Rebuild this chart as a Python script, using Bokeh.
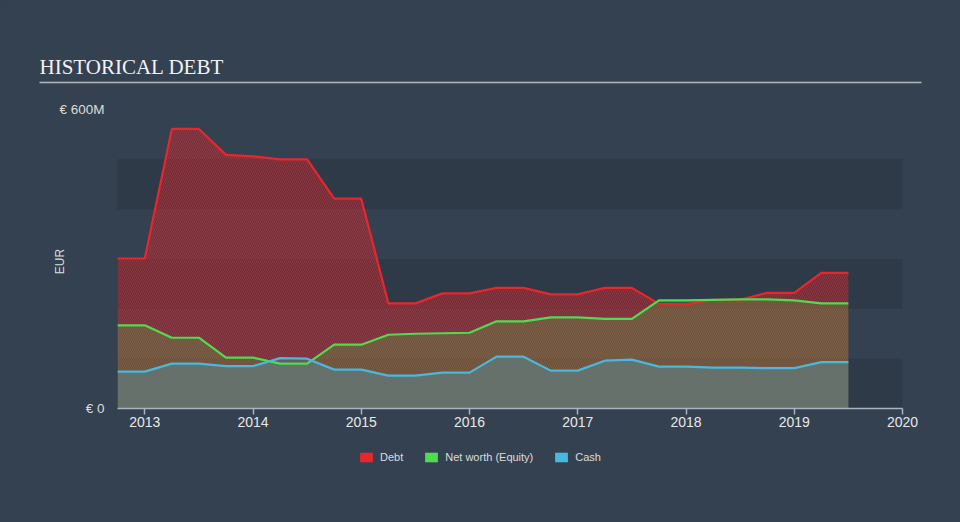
from bokeh.plotting import figure
from bokeh.models import Range1d, FixedTicker, BoxAnnotation, Legend, LegendItem, Label
from bokeh.embed import file_html
from bokeh.resources import INLINE

# ---- data (EUR millions), quarterly report dates as fractional years ----
dates = [2012.75, 2013.0, 2013.25, 2013.5, 2013.75, 2014.0, 2014.25, 2014.5,
         2014.75, 2015.0, 2015.25, 2015.5, 2015.75, 2016.0, 2016.25, 2016.5,
         2016.75, 2017.0, 2017.25, 2017.5, 2017.75, 2018.0, 2018.25, 2018.5,
         2018.75, 2019.0, 2019.25, 2019.5]
debt = [301, 301, 561, 561, 509, 506, 500, 500,
        421, 421, 211, 211, 231, 231, 242, 242,
        229, 229, 242, 242, 210, 209, 218, 218,
        232, 232, 272, 272]
equity = [167, 167, 142, 142, 102, 102, 90, 90,
          128, 128, 148, 150, 151, 152, 175, 175,
          183, 183, 180, 180, 217, 217, 218, 219,
          219, 217, 211, 211]
cash = [74, 74, 90, 90, 85, 85, 101, 100,
        78, 78, 66, 66, 72, 72, 104, 104,
        76, 76, 96, 98, 84, 84, 82, 82,
        81, 81, 93, 93]
year_ticks = [2013, 2014, 2015, 2016, 2017, 2018, 2019, 2020]
series_names = ["Debt", "Net worth (Equity)", "Cash"]
y_ticks = [0, 600]
y_tick_labels = {0: "€ 0", 600: "€ 600M"}
bands = [(0, 100), (200, 300), (400, 500)]
title_text = "HISTORICAL DEBT"

BG = "#344150"
BAND = "#2e3a48"
RED = "#e8262b"
GREEN = "#4fdc4f"
BLUE = "#48b8df"
TXT = "#dcdcdc"

W, H = 960, 522
# plotting area in pixels: x 117..902, y 109 (600M) .. 408 (0)
X0, X1 = dates[0] - 0.002, year_ticks[-1]
PX_L, PX_R, PX_T, PX_B = 117, 902, 109, 408
sx = (PX_R - PX_L) / (X1 - X0)
sy = (PX_B - PX_T) / 600.0
x_start = X0 - PX_L / sx
x_end = X1 + (W - PX_R) / sx
y_start = -(H - PX_B) / sy
y_end = 600 + PX_T / sy


def px_x(px):
    return x_start + px / sx


def px_y(py):
    return y_end - py / sy


p = figure(width=W, height=H,
           x_range=Range1d(x_start, x_end), y_range=Range1d(y_start, y_end),
           output_backend="svg", toolbar_location=None,
           min_border=0, min_border_left=0, min_border_right=0,
           min_border_top=0, min_border_bottom=0,
           background_fill_color=BG, border_fill_color=BG,
           outline_line_color=None)
p.styles = {"background-color": BG}
p.grid.visible = False

for b0, b1 in bands:
    p.add_layout(BoxAnnotation(left=X0, right=X1, bottom=b0, top=b1,
                               fill_color=BAND, fill_alpha=1.0,
                               line_color=None, level="underlay"))

# areas
p.varea(x=dates, y1=0, y2=debt, fill_color=RED, fill_alpha=0.08,
        hatch_pattern="\\", hatch_color=RED, hatch_alpha=0.58,
        hatch_scale=4, hatch_weight=1.2)
p.varea(x=dates, y1=0, y2=equity, fill_color=GREEN, fill_alpha=0.22)
p.varea(x=dates, y1=0, y2=cash, fill_color=BLUE, fill_alpha=0.28)
for vals, col in [(debt, RED), (equity, GREEN), (cash, BLUE)]:
    p.line(x=dates, y=vals, line_color=col, line_width=2.2)

# x axis, drawn at y = 0
xa = p.xaxis[0]
xa.fixed_location = 0
xa.bounds = (X0, X1)
xa.ticker = FixedTicker(ticks=year_ticks)
xa.axis_line_color = "#aab4c0"
xa.axis_line_width = 1.5
xa.major_tick_line_color = "#aab4c0"
xa.major_tick_line_width = 1.5
xa.major_tick_out = 6
xa.major_tick_in = 0
xa.minor_tick_line_color = None
xa.major_label_text_color = "#e8e8e8"
xa.major_label_text_font = "Liberation Sans"
xa.major_label_text_font_size = "14px"
xa.major_label_standoff = 2

# y axis, drawn at the start of the data
ya = p.yaxis[0]
ya.fixed_location = X0
ya.ticker = FixedTicker(ticks=y_ticks)
ya.major_label_overrides = y_tick_labels
ya.axis_line_color = None
ya.major_tick_line_color = None
ya.major_tick_out = 0
ya.major_tick_in = 0
ya.minor_tick_line_color = None
ya.major_label_text_color = TXT
ya.major_label_text_font = "Liberation Sans"
ya.major_label_text_font_size = "13.5px"
ya.major_label_standoff = 13
ya.axis_label = "EUR"
ya.axis_label_text_font = "Liberation Sans"
ya.axis_label_text_font_size = "12px"
ya.axis_label_text_font_style = "normal"
ya.axis_label_text_color = TXT
ya.axis_label_standoff = -11

# title + underline
p.add_layout(Label(x=px_x(39), y=px_y(66.7), text=title_text,
                   text_font="Liberation Serif", text_font_size="21px",
                   text_color="#f2f2f2", text_baseline="alphabetic"))
p.add_layout(BoxAnnotation(left=px_x(39), right=px_x(921), top=px_y(81.3), bottom=px_y(82.8),
                           fill_color="#b4b9c0", fill_alpha=1.0, line_color=None))

# legend swatches: zero-height areas along the data (invisible in the plot)
legend_renderers = []
for col in [RED, GREEN, BLUE]:
    r = p.varea(x=dates, y1=0, y2=0, fill_color=col, fill_alpha=1.0)
    legend_renderers.append(r)
legend = Legend(items=[LegendItem(label=n, renderers=[r]) for n, r in zip(series_names, legend_renderers)],
                orientation="horizontal", location=(358, H - 463),
                background_fill_alpha=0, border_line_color=None,
                label_text_color=TXT, label_text_font="Liberation Sans",
                label_text_font_size="11px", glyph_width=16, glyph_height=12,
                label_standoff=6, spacing=20, padding=0, margin=0)
p.add_layout(legend, "center")

open("out.html", "w").write(file_html(p, INLINE))
